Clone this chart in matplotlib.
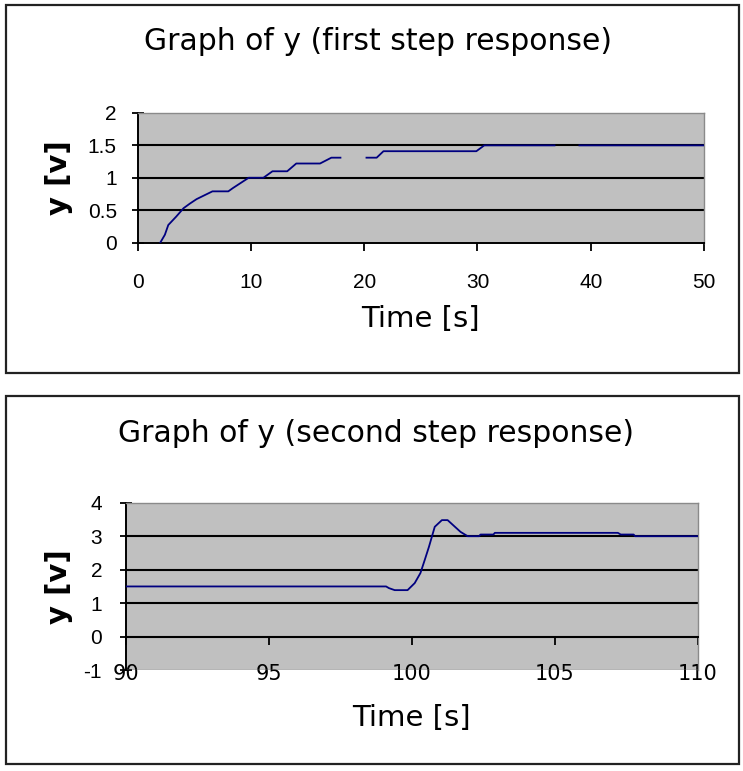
import numpy as np
import matplotlib
matplotlib.use("Agg")
import matplotlib.pyplot as plt
from matplotlib.patches import Rectangle

# first step response, nan = gap in the trace
t_first = [2.0, 2.4, 2.7, 3.4, 4.05, 4.6, 5.2, 5.9, 6.6, 8.0, 8.4, 9.1, 9.8,
           11.1, 11.9, 13.2, 14.0, 16.1, 17.1, 17.9, np.nan,
           20.2, 21.1, 21.7, 29.9, 30.6, 36.8, np.nan, 39.0, 50.0]
y_first = [0.0, 0.12, 0.27, 0.40, 0.53, 0.60, 0.67, 0.73, 0.79, 0.79, 0.84, 0.92, 1.0,
           1.0, 1.1, 1.1, 1.22, 1.22, 1.31, 1.31, np.nan,
           1.31, 1.31, 1.41, 1.41, 1.5, 1.5, np.nan, 1.5, 1.5]

# second step response
t_second = [90.0, 99.1, 99.2, 99.4, 99.85, 100.1, 100.3, 100.45, 100.6, 100.8,
            101.05, 101.25, 101.7, 101.95, 102.35, 102.4, 102.85, 102.9,
            107.2, 107.3, 107.75, 107.8, 110.0]
y_second = [1.5, 1.5, 1.45, 1.39, 1.39, 1.6, 1.9, 2.29, 2.69, 3.28,
            3.48, 3.48, 3.13, 3.0, 3.0, 3.05, 3.05, 3.1,
            3.1, 3.05, 3.05, 3.0, 3.0]

x_ticks_first = [0, 10, 20, 30, 40, 50]
y_ticks_first = [0, 0.5, 1, 1.5, 2]
y_labels_first = ["0", "0.5", "1", "1.5", "2"]
x_ticks_second = [90, 95, 100, 105, 110]
y_ticks_second = [-1, 0, 1, 2, 3, 4]

titles = ["Graph of y (first step response)", "Graph of y (second step response)"]
x_label = "Time [s]"
y_label = "y [v]"

W, H = 743, 771
fig = plt.figure(figsize=(W / 100, H / 100), dpi=100)

def px_rect(left, top, right, bottom) :
    # pixel box -> figure fraction [l, b, w, h]
    return [left / W, 1 - bottom / H, (right - left) / W, (bottom - top) / H]

def frame(left, top, right, bottom) :
    r = Rectangle((left / W, 1 - bottom / H), (right - left) / W, (bottom - top) / H,
                  transform=fig.transFigure, fill=False, edgecolor="#222222", lw=1.6)
    fig.patches.append(r)

def style_axes(ax, xticks, yticks, ylabels) :
    ax.set_facecolor("#c0c0c0")
    for s in ["top", "right"] :
        ax.spines[s].set_color("#8a8a8a")
        ax.spines[s].set_linewidth(1.0)
    ax.spines["left"].set_linewidth(1.4)
    ax.spines["bottom"].set_linewidth(1.4)
    ax.set_xticks(xticks)
    ax.set_yticks(yticks)
    ax.set_yticklabels(ylabels)
    ax.tick_params(axis="x", direction="out", length=6, width=1.3, pad=16,
                   labelsize=15)
    ax.tick_params(axis="y", direction="inout", length=8, width=1.3, pad=11,
                   labelsize=15)
    for lab in ax.get_xticklabels() + ax.get_yticklabels() :
        lab.set_fontfamily("Liberation Sans")
    # black gridlines only inside the plot area
    for v in yticks[1:-1] :
        ax.axhline(v, color="black", lw=1.5, zorder=1)

# ---- top chart
frame(6, 5, 739, 373)
ax1 = fig.add_axes(px_rect(137.7, 113, 704, 242.5))
ax1.plot(t_first, y_first, color="#000080", lw=1.3, zorder=3)
ax1.set_xlim(0, 50)
ax1.set_ylim(0, 2)
style_axes(ax1, x_ticks_first, y_ticks_first, y_labels_first)
ax1.set_xlabel(x_label, fontsize=21)
ax1.xaxis.set_label_coords(0.5, -0.48)
ax1.xaxis.label.set_va("top")
ax1.set_ylabel(y_label, fontsize=21, fontweight="bold")
ax1.yaxis.set_label_coords(-0.114, 0.5)
fig.text(378 / W, 1 - 42 / H, titles[0], ha="center", va="center", fontsize=21.5)

# ---- bottom chart
frame(6, 396, 739, 764)
ax2 = fig.add_axes(px_rect(125.7, 502.7, 698, 670.2))
ax2.plot(t_second, y_second, color="#000080", lw=1.3, zorder=3)
ax2.set_xlim(90, 110)
ax2.set_ylim(-1, 4)
style_axes(ax2, x_ticks_second, y_ticks_second, [str(v) for v in y_ticks_second])
ax2.spines["bottom"].set_position(("data", 0))
ax2.axhline(-1, color="#8a8a8a", lw=1.0, zorder=2)
ax2.tick_params(axis="x", pad=14)
ax2.tick_params(axis="y", pad=13)
ax2.set_xlabel(x_label, fontsize=21)
ax2.xaxis.set_label_coords(0.5, -0.2)
ax2.xaxis.label.set_va("top")
ax2.set_ylabel(y_label, fontsize=21, fontweight="bold")
ax2.yaxis.set_label_coords(-0.092, 0.5)
fig.text(375.5 / W, 1 - 433 / H, titles[1], ha="center", va="center", fontsize=21.5)

fig.savefig("out.png", dpi=100)
